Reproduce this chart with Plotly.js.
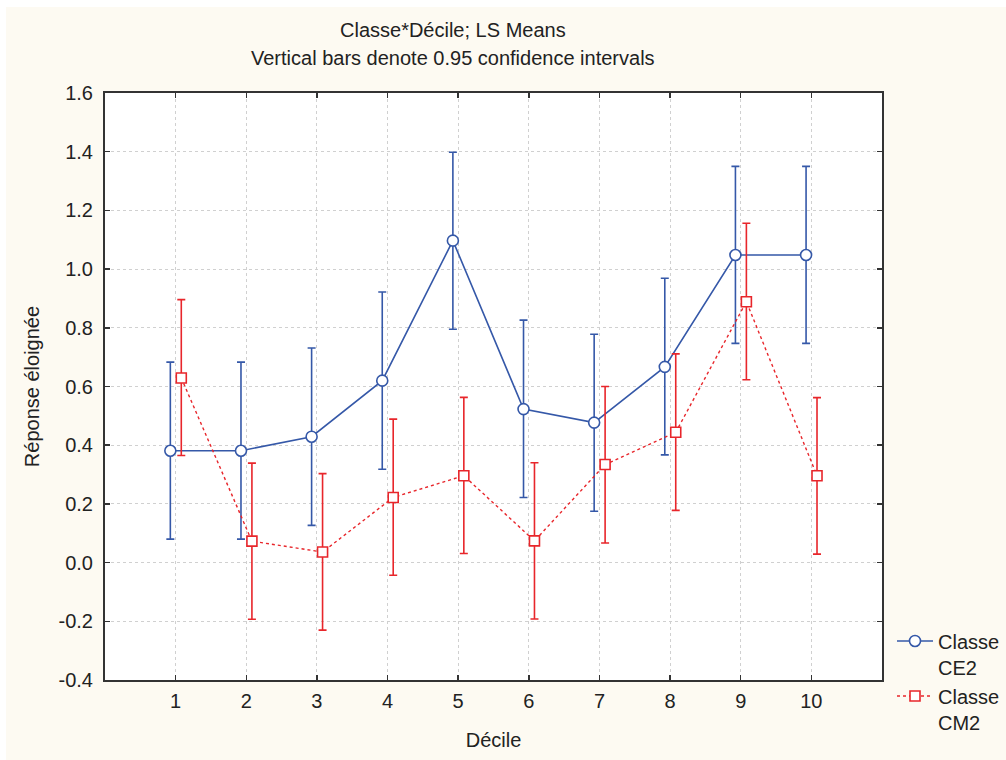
<!DOCTYPE html>
<html>
<head>
<meta charset="utf-8">
<script src="https://cdn.plot.ly/plotly-3.0.1.min.js"></script>
<style>
  html, body { margin: 0; padding: 0; background: #ffffff; }
  #chart { position: absolute; left: 6px; top: 7px; width: 1000px; height: 753px; }
</style>
</head>
<body>
<div id="chart"></div>
<script>
// Data
const deciles = [1, 2, 3, 4, 5, 6, 7, 8, 9, 10];
const xTickLabels = ["1", "2", "3", "4", "5", "6", "7", "8", "9", "10"];
const yTickVals = [-0.4, -0.2, 0.0, 0.2, 0.4, 0.6, 0.8, 1.0, 1.2, 1.4, 1.6];
const yTickLabels = ["-0.4", "-0.2", "0.0", "0.2", "0.4", "0.6", "0.8", "1.0", "1.2", "1.4", "1.6"];

// Classe CE2 (LS means with 0.95 confidence limits)
const ce2Mean  = [0.381, 0.381, 0.429, 0.620, 1.097, 0.523, 0.477, 0.667, 1.048, 1.048];
const ce2Upper = [0.683, 0.683, 0.731, 0.922, 1.398, 0.826, 0.778, 0.969, 1.350, 1.350];
const ce2Lower = [0.080, 0.080, 0.127, 0.318, 0.795, 0.222, 0.175, 0.367, 0.747, 0.747];

// Classe CM2
const cm2Mean  = [0.629, 0.073, 0.036, 0.222, 0.296, 0.074, 0.334, 0.444, 0.889, 0.296];
const cm2Upper = [0.896, 0.339, 0.303, 0.489, 0.563, 0.340, 0.600, 0.711, 1.156, 0.562];
const cm2Lower = [0.365, -0.193, -0.230, -0.043, 0.031, -0.192, 0.067, 0.178, 0.623, 0.029];

const seriesNames = ["Classe<br>CE2", "Classe<br>CM2"];
const titleLines = ["Classe*Décile; LS Means", "Vertical bars denote 0.95 confidence intervals"];

const blue = "#3558a8";
const red = "#e8262b";
const ce2Shift = -0.075, cm2Shift = 0.08;

const traces = [
  {
    type: "scatter", mode: "lines+markers", name: seriesNames[0],
    x: deciles.map(d => d + ce2Shift), y: ce2Mean,
    line: { color: blue, width: 1.6 },
    marker: { symbol: "circle", size: 11, color: "#ffffff", line: { color: blue, width: 1.6 } },
    error_y: {
      type: "data", symmetric: false,
      array: ce2Upper.map((u, i) => u - ce2Mean[i]),
      arrayminus: ce2Lower.map((l, i) => ce2Mean[i] - l),
      color: blue, thickness: 1.6, width: 4
    }
  },
  {
    type: "scatter", mode: "lines+markers", name: seriesNames[1],
    x: deciles.map(d => d + cm2Shift), y: cm2Mean,
    line: { color: red, width: 1.4, dash: "dot" },
    marker: { symbol: "square", size: 10, color: "#ffffff", line: { color: red, width: 1.6 } },
    error_y: {
      type: "data", symmetric: false,
      array: cm2Upper.map((u, i) => u - cm2Mean[i]),
      arrayminus: cm2Lower.map((l, i) => cm2Mean[i] - l),
      color: red, thickness: 1.6, width: 4
    }
  }
];

const fontFam = "Liberation Sans, Arial, sans-serif";
const fs = 20;
const layout = {
  width: 1000, height: 753,
  paper_bgcolor: "#fdfaf2",
  plot_bgcolor: "#ffffff",
  margin: { l: 99, r: 124, t: 86, b: 80 },
  font: { family: fontFam, size: fs, color: "#222222" },
  annotations: [
    { text: titleLines[0], xref: "paper", yref: "paper", x: (453 - 105) / 777, y: 1 + (93 - 30) / 587,
      xanchor: "center", yanchor: "middle", showarrow: false, font: { size: fs, color: "#222222" } },
    { text: titleLines[1], xref: "paper", yref: "paper", x: (453 - 105) / 777, y: 1 + (93 - 58) / 587,
      xanchor: "center", yanchor: "middle", showarrow: false, font: { size: fs, color: "#222222" } }
  ],
  xaxis: {
    range: [0, 11],
    tickmode: "array", tickvals: deciles, ticktext: xTickLabels,
    ticks: "inside", ticklen: 5, tickwidth: 1.5, tickcolor: "#333333",
    showline: true, linecolor: "#333333", linewidth: 2, mirror: "ticks",
    showgrid: true, gridcolor: "#d0d0d0", griddash: "dot", gridwidth: 1,
    zeroline: false, ticklabelstandoff: 2,
    tickfont: { size: fs },
    title: { text: "Décile", font: { size: fs }, standoff: 22 }
  },
  yaxis: {
    range: [-0.4, 1.6],
    tickmode: "array", tickvals: yTickVals, ticktext: yTickLabels,
    ticks: "inside", ticklen: 5, tickwidth: 1.5, tickcolor: "#333333",
    showline: true, linecolor: "#333333", linewidth: 2, mirror: "ticks",
    showgrid: true, gridcolor: "#d0d0d0", griddash: "dot", gridwidth: 1,
    zeroline: false, ticklabelstandoff: 6,
    tickfont: { size: fs },
    title: { text: "Réponse éloignée", font: { size: fs }, standoff: 14 }
  },
  showlegend: true,
  legend: {
    xref: "container", yref: "container",
    x: 0.886, xanchor: "left", y: 0.184, yanchor: "top",
    bgcolor: "rgba(0,0,0,0)", borderwidth: 0,
    font: { size: fs, color: "#222222" },
    valign: "top", itemwidth: 36, tracegroupgap: 0
  }
};

Plotly.newPlot("chart", traces, layout, { displayModeBar: false, staticPlot: true });
</script>
</body>
</html>
